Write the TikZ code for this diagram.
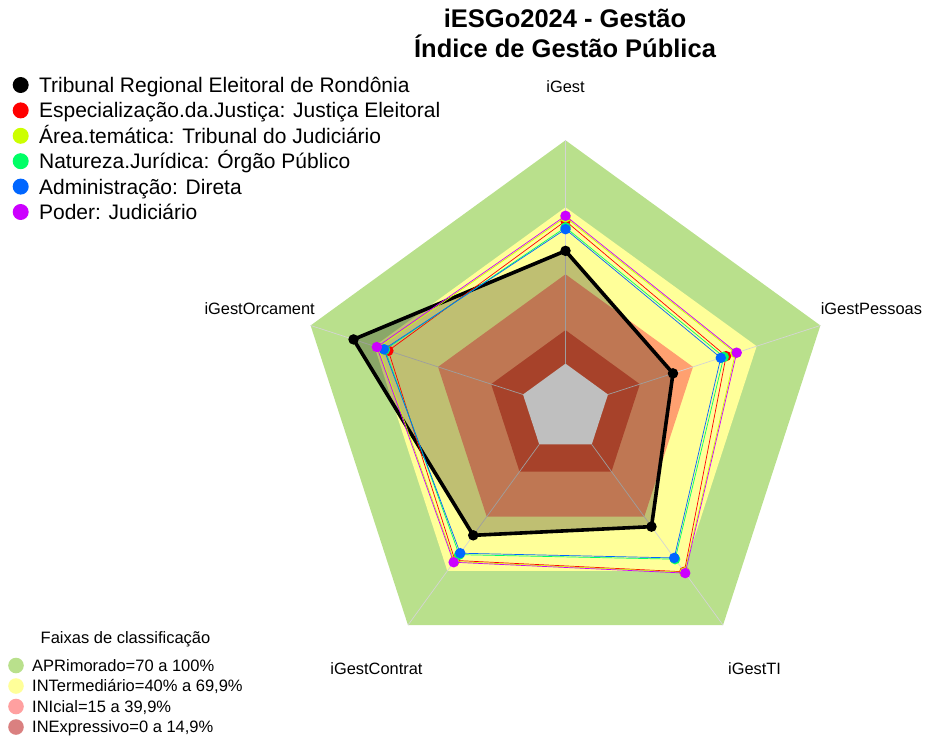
\documentclass[tikz,border=0pt]{standalone}
\usepackage{fontspec}
\setmainfont{Liberation Sans}
\usetikzlibrary{positioning}

\definecolor{aprcol}{RGB}{185,224,140}
\definecolor{intcol}{RGB}{255,255,153}
\definecolor{inicol}{RGB}{255,160,112}
\definecolor{inecol}{RGB}{224,89,57}
\definecolor{inileg}{RGB}{255,160,160}
\definecolor{ineleg}{RGB}{218,128,128}
\definecolor{sered}{RGB}{255,0,0}
\definecolor{seyel}{RGB}{204,255,0}
\definecolor{segrn}{RGB}{0,255,102}
\definecolor{seblu}{RGB}{0,102,255}
\definecolor{semag}{RGB}{204,0,255}

\begin{document}
\begin{tikzpicture}[x=1pt,y=1pt,
  spoke/.style={draw=black!17,line width=0.7pt},
  serie/.style={line width=0.7pt},
  sdot/.style={circle,inner sep=0pt,minimum size=10.5pt,fill=#1},
  axlab/.style={font=\fontsize{16.4}{19}\selectfont,inner sep=0pt},
  titulo/.style={font=\fontsize{25.5}{30}\selectfont\bfseries,anchor=base,inner sep=0pt},
  ldot/.style={circle,inner sep=0pt,minimum size=16pt,fill=#1},
  leg/.style={font=\fontsize{21}{25}\selectfont,anchor=west,inner sep=0pt,text height=15pt,text depth=0pt},
  fdot/.style={circle,inner sep=0pt,minimum size=15.6pt,fill=#1},
  fleg/.style={font=\fontsize{16.5}{20}\selectfont,anchor=west,inner sep=0pt,text height=11.8pt,text depth=0pt}]
\useasboundingbox (0,0) rectangle (925,737);

% titulo
\node[titulo] (tit1) at (565,709) {iESGo2024 - Gestão};
\node[titulo] (tit2) at (565,679) {Índice de Gestão Pública};

\begin{scope}[shift={(565.5,328.7)},scale=2.2333]
  % faixas de classificacao
  \fill[aprcol] (90:120) -- (18:120) -- (-54:120) -- (-126:120) -- (162:120) -- cycle;
  \fill[intcol] (90:90) -- (18:90) -- (-54:90) -- (-126:90) -- (162:90) -- cycle;
  \fill[inicol] (90:60) -- (18:60) -- (-54:60) -- (-126:60) -- (162:60) -- cycle;
  \fill[inecol] (90:35) -- (18:35) -- (-54:35) -- (-126:35) -- (162:35) -- cycle;
  \fill[white] (90:20) -- (18:20) -- (-54:20) -- (-126:20) -- (162:20) -- cycle;

  % eixos
  \draw[spoke] (90:20) -- (90:120);
  \draw[spoke] (18:20) -- (18:120);
  \draw[spoke] (-54:20) -- (-54:120);
  \draw[spoke] (-126:20) -- (-126:120);
  \draw[spoke] (162:20) -- (162:120);

  \node[axlab] (agest) at (90:144) {iGest};
  \node[axlab] (apess) at (18:144) {iGestPessoas};
  \node[axlab] (ati) at (-54:144) {iGestTI};
  \node[axlab] (acont) at (-126:144) {iGestContrat};
  \node[axlab] (aorca) at (162:144) {iGestOrcament};

  % TRE-RO
  \draw[black,line width=3.6pt,line join=round,fill=black,fill opacity=0.25]
    (90:70.5) -- (18:50.6) -- (-54:65.5) -- (-126:70.3) -- (162:99.8) -- cycle;
  \node[sdot=black] (t1) at (90:70.5) {};
  \node[sdot=black] (t2) at (18:50.6) {};
  \node[sdot=black] (t3) at (-54:65.5) {};
  \node[sdot=black] (t4) at (-126:70.3) {};
  \node[sdot=black] (t5) at (162:99.8) {};

  % grupos
  \draw[serie,sered] (90:83.9) node[sdot=sered] (r1) {} -- (18:75.6) node[sdot=sered] (r2) {}
    -- (-54:90.5) node[sdot=sered] (r3) {} -- (-126:84.2) node[sdot=sered] (r4) {}
    -- (162:83.4) node[sdot=sered] (r5) {} -- cycle;
  \draw[serie,seyel] (90:85.5) node[sdot=seyel] (y1) {} -- (18:80) node[sdot=seyel] (y2) {}
    -- (-54:90.8) node[sdot=seyel] (y3) {} -- (-126:84.8) node[sdot=seyel] (y4) {}
    -- (162:88.2) node[sdot=seyel] (y5) {} -- cycle;
  \draw[serie,segrn] (90:81) node[sdot=segrn] (g1) {} -- (18:74.5) node[sdot=segrn] (g2) {}
    -- (-54:83.5) node[sdot=segrn] (g3) {} -- (-126:81) node[sdot=segrn] (g4) {}
    -- (162:85) node[sdot=segrn] (g5) {} -- cycle;
  \draw[serie,seblu] (90:80.2) node[sdot=seblu] (b1) {} -- (18:73.1) node[sdot=seblu] (b2) {}
    -- (-54:82.8) node[sdot=seblu] (b3) {} -- (-126:80.2) node[sdot=seblu] (b4) {}
    -- (162:85.5) node[sdot=seblu] (b5) {} -- cycle;
  \draw[serie,semag] (90:86.2) node[sdot=semag] (m1) {} -- (18:80.6) node[sdot=semag] (m2) {}
    -- (-54:91.2) node[sdot=semag] (m3) {} -- (-126:85.2) node[sdot=semag] (m4) {}
    -- (162:88.8) node[sdot=semag] (m5) {} -- cycle;
\end{scope}

% legenda
\node[ldot=black] (l1) at (20.7,652) {};
\node[leg,right=10pt of l1] (l1t) {Tribunal Regional Eleitoral de Rondônia};
\node[ldot=sered] (l2) at (20.7,626.6) {};
\node[leg,right=10pt of l2] (l2t) {Especialização.da.Justiça: Justiça Eleitoral};
\node[ldot=seyel] (l3) at (20.7,601.2) {};
\node[leg,right=10pt of l3] (l3t) {Área.temática: Tribunal do Judiciário};
\node[ldot=segrn] (l4) at (20.7,575.8) {};
\node[leg,right=10pt of l4] (l4t) {Natureza.Jurídica: Órgão Público};
\node[ldot=seblu] (l5) at (20.7,550.4) {};
\node[leg,right=10pt of l5] (l5t) {Administração: Direta};
\node[ldot=semag] (l6) at (20.7,525) {};
\node[leg,right=10pt of l6] (l6t) {Poder: Judiciário};

% faixas
\node[fleg] (ftit) at (40.5,99) {Faixas de classificação};
\node[fdot=aprcol] (f1) at (16,71.5) {};
\node[fleg,right=8pt of f1] (f1t) {APRimorado=70 a 100\%};
\node[fdot=intcol] (f2) at (16,51) {};
\node[fleg,right=8pt of f2] (f2t) {INTermediário=40\% a 69,9\%};
\node[fdot=inileg] (f3) at (16,30.5) {};
\node[fleg,right=8pt of f3] (f3t) {INIcial=15 a 39,9\%};
\node[fdot=ineleg] (f4) at (16,10) {};
\node[fleg,right=8pt of f4] (f4t) {INExpressivo=0 a 14,9\%};
\end{tikzpicture}
\end{document}
